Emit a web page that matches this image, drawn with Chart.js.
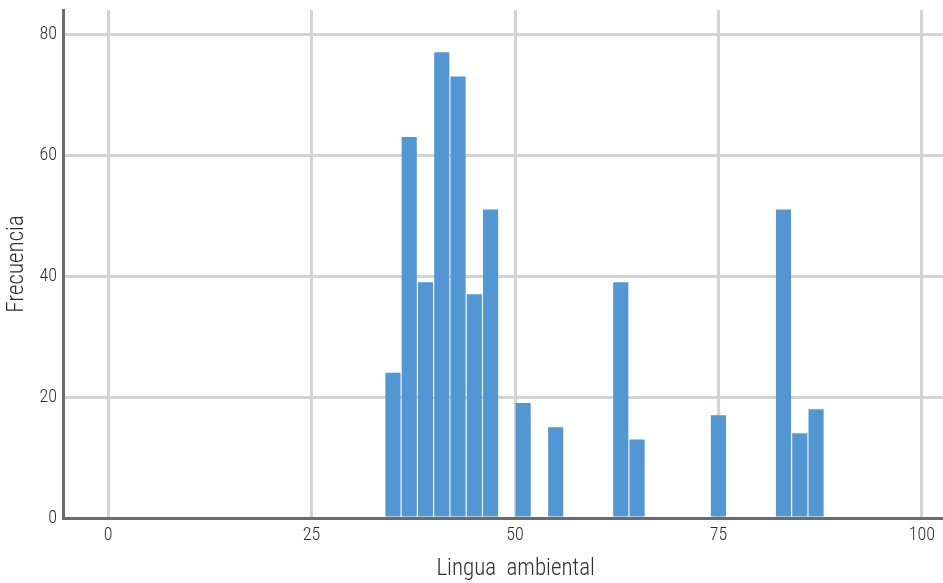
<!DOCTYPE html>
<html>
<head>
<meta charset="utf-8">
<script src="https://cdn.jsdelivr.net/npm/chart.js@4/dist/chart.umd.min.js"></script>
<style>
  html, body { margin: 0; padding: 0; background: #fff; }
  #wrap { width: 943px; height: 583px; }
</style>
</head>
<body>
<div id="wrap"><canvas id="myChart"></canvas></div>
<script>
// histogram bins (width 2), start of each bin
const binStarts = [34, 36, 38, 40, 42, 44, 46, 48, 50, 52, 54, 56, 58, 60, 62, 64, 66, 68, 70, 72, 74, 76, 78, 80, 82, 84, 86]
const counts = [24, 63, 39, 77, 73, 37, 51, 0, 19, 0, 15, 0, 0, 0, 39, 13, 0, 0, 0, 0, 17, 0, 0, 0, 51, 14, 18]
const binWidth = 2
const xTicks = [0, 25, 50, 75, 100]
const yTicks = [0, 20, 40, 60, 80]

const fontName = "'Roboto Condensed', 'Open Sans', sans-serif"
const gridColor = '#d3d3d3'
const axisColor = '#6b6b6e'
const textColor = '#2e2e2e'

const points = binStarts.map((s, i) => ({ x: s + binWidth / 2, y: counts[i] }))

const config = {
    type: 'bar',
    data: {
        datasets: [{
            data: points,
            backgroundColor: '#5296d3',
            borderWidth: 0,
            categoryPercentage: 1,
            barPercentage: 0.93
        }]
    },
    options: {
        responsive: true,
        maintainAspectRatio: false,
        animation: false,
        layout: { padding: { top: 10, right: 0, left: 0, bottom: 0 } },
        plugins: { legend: { display: false }, tooltip: { enabled: false } },
        scales: {
            x: {
                type: 'linear',
                min: -5.55,
                max: 102.6,
                offset: false,
                afterBuildTicks: scale => { scale.ticks = xTicks.map(v => ({ value: v })) },
                afterFit: scale => {
                    scale.height = 65
                    scale.paddingLeft = 0
                    scale.paddingRight = 0
                },
                grid: { color: gridColor, lineWidth: 3, drawTicks: false, offset: false },
                border: { display: true, color: axisColor, width: 3 },
                ticks: {
                    padding: 7,
                    color: textColor,
                    font: { family: fontName, size: 18, weight: 300 },
                    maxRotation: 0
                },
                title: {
                    display: true,
                    // leading em space nudges the title over the 0-100 span
                    text: '\u2003 Lingua  ambiental',
                    color: textColor,
                    font: { family: fontName, size: 23, weight: 300 },
                    padding: { top: 0, bottom: 0 }
                }
            },
            y: {
                min: 0,
                max: 84,
                afterBuildTicks: scale => { scale.ticks = yTicks.map(v => ({ value: v })) },
                afterFit: scale => {
                    scale.width = 63
                    scale.paddingTop = 0
                    scale.paddingBottom = 0
                },
                grid: { color: gridColor, lineWidth: 3, drawTicks: false },
                border: { display: true, color: axisColor, width: 3 },
                ticks: {
                    padding: 6,
                    color: textColor,
                    font: { family: fontName, size: 18, weight: 300 }
                },
                title: {
                    display: true,
                    text: 'Frecuencia',
                    color: textColor,
                    font: { family: fontName, size: 23, weight: 300 },
                    padding: { top: 3, bottom: 0 }
                }
            }
        }
    }
}

let myChart = new Chart(document.getElementById('myChart'), config)
</script>
</body>
</html>
